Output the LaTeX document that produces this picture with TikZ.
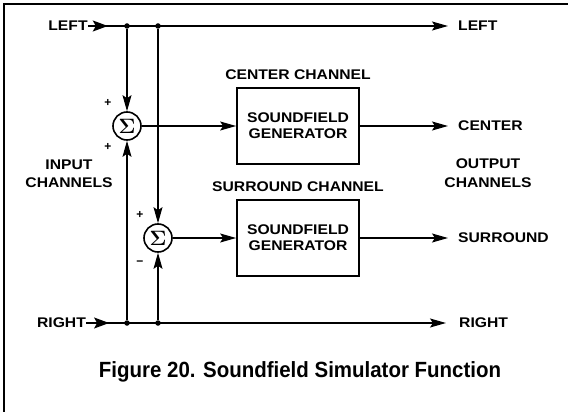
\documentclass[tikz,border=0pt]{standalone}
\usepackage{fontspec}
\setmainfont{Liberation Sans}
\newfontfamily\lblfont{Liberation Sans}[FakeStretch=1.12]
\newfontfamily\capfont{Liberation Sans}[FakeStretch=0.93]
\usetikzlibrary{arrows.meta,positioning,decorations.markings}
\tikzset{
  sig/.style={line width=1.2pt},
  sigarrow/.style={sig, -{Stealth[length=16pt, width=9pt, inset=3pt]}},
  inmark/.style={decoration={markings,
      mark=at position #1 with {\arrow{Stealth[length=15pt, width=11pt, inset=3pt]}}},
    postaction={decorate}},
  gen/.style={rectangle, draw, line width=1.7pt, minimum width=122pt, minimum height=76pt,
              align=center, font=\lblfont\bfseries\fontsize{14}{16}\selectfont},
  sumnode/.style={circle, draw, line width=1.6pt, minimum size=28pt, inner sep=0pt,
                  font=\boldmath\fontsize{22}{22}\selectfont},
  lbl/.style={inner sep=0pt, align=center, font=\lblfont\bfseries\fontsize{14}{18.5}\selectfont},
  sign/.style={inner sep=0pt, font=\bfseries\fontsize{12}{12}\selectfont},
  dot/.style={circle, fill, inner sep=0pt, minimum size=5.5pt},
}

\begin{document}
\begin{tikzpicture}[x=1pt, y=-1pt]
\useasboundingbox (0,0) rectangle (568,412);
\draw[line width=1.8pt] (4,412) -- (4,4) -- (568,4);

% inputs and outputs
\node[lbl] (lin) at (68,26) {LEFT};
\node[lbl, anchor=west] (lout) at (458,26) {LEFT};
\node[lbl] (rin) at (61.5,323) {RIGHT};
\node[lbl, anchor=west] (rout) at (459,323) {RIGHT};
\node[lbl] (inch) at (69,174) {INPUT\\CHANNELS};
\node[lbl] (outch) at (488,173) {OUTPUT\\CHANNELS};
\node[lbl, anchor=west] (cout) at (458,126) {CENTER};
\node[lbl, anchor=west] (sout) at (458,238) {SURROUND};

% summing points and generators
\node[sumnode] (s1) at (127,126) {$\Sigma$};
\node[sumnode] (s2) at (158,238) {$\Sigma$};
\node[gen] (gen1) at (298,126) {SOUNDFIELD\\GENERATOR};
\node[gen] (gen2) at (298,238) {SOUNDFIELD\\GENERATOR};
\node[lbl, above=7pt of gen1] (t1) {CENTER CHANNEL};
\node[lbl, above=7pt of gen2] (t2) {SURROUND CHANNEL};

\node[sign] (p1) at (108,103) {+};
\node[sign] (p2) at (108,147) {+};
\node[sign] (p3) at (140,215) {+};
\node[sign] (m1) at (140,263) {−};

\node[dot] (j1) at (127,26) {};
\node[dot] (j2) at (158,26) {};
\node[dot] (j3) at (127,323) {};
\node[dot] (j4) at (158,323) {};

\draw[sigarrow, inmark=20pt, shorten >=10pt] (lin) -- (lout);
\draw[sigarrow, inmark=23pt, shorten >=13pt] (rin) -- (rout);
\foreach \a/\b in {j1/s1, j3/s1, j2/s2, j4/s2, s1/gen1, s2/gen2}
  \draw[sigarrow] (\a) -- (\b);
\draw[sigarrow, shorten >=10pt] (gen1) -- (cout);
\draw[sigarrow, shorten >=10pt] (gen2) -- (sout);

\node[font=\capfont\bfseries\fontsize{22}{22}\selectfont] (cap) at (300,372)
  {Figure 20. Soundfield Simulator Function};
\end{tikzpicture}
\end{document}
